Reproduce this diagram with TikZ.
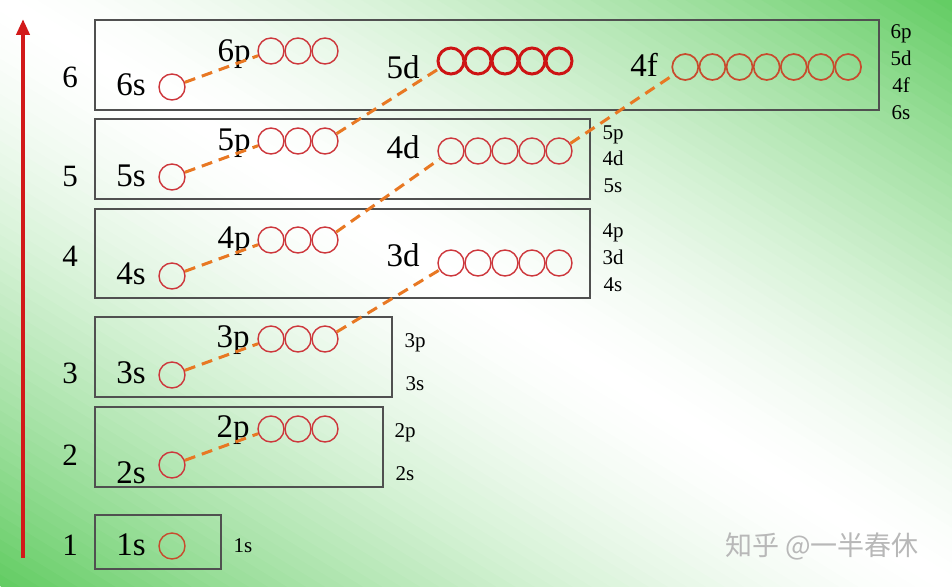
\documentclass[tikz,border=0pt]{standalone}
\usepackage{fontspec}
\setmainfont{Liberation Serif}
\newfontfamily\cjk{Noto Sans CJK SC}
\usetikzlibrary{arrows.meta}
\definecolor{bggreen}{RGB}{70,195,70}
\definecolor{orbred}{RGB}{205,55,60}
\definecolor{darkred}{RGB}{205,20,20}
\definecolor{forange}{RGB}{200,75,45}
\definecolor{dashorange}{RGB}{232,120,35}
\definecolor{boxgray}{RGB}{80,80,80}
\definecolor{arrowred}{RGB}{210,25,25}
\newcommand\setfs[1]{\fontsize{#1}{#1}\selectfont}
\tikzset{
  orb/.style={circle, draw=orbred, line width=1.4pt, minimum size=26pt, inner sep=0pt},
  orbd/.style={orb, draw=darkred, line width=3pt},
  orbf/.style={orb, draw=forange, line width=1.7pt},
  orbs/.style={orb, draw=forange},
  lbl/.style={anchor=base, inner sep=0pt, font=\setfs{33}},
  num/.style={anchor=base, inner sep=0pt, font=\setfs{31}},
  side/.style={anchor=base, inner sep=0pt, font=\setfs{21}},
  shell/.style={draw=boxgray, line width=1.3pt},
  link/.style={draw=dashorange, line width=3pt, dash pattern=on 11pt off 7pt},
  wm/.style={inner sep=0pt, text=black!28, font=\cjk\setfs{27}},
}
\begin{document}
\begin{tikzpicture}[x=1pt,y=-1pt]
\useasboundingbox (0,0) rectangle (952,586);
% background gradient
\begin{scope}
\clip (0,0) rectangle (952,586);
\fill[white] (0,0) rectangle (952,586);
\foreach \i in {0,...,99}{
  \pgfmathsetmacro\tm{(\i+0.5)/100}
  \pgfmathsetmacro\u{abs(2*\tm-1)}
  \pgfmathsetmacro\a{85*\u^1.5}
  \pgfmathsetmacro\ta{\i/100}
  \pgfmathsetmacro\tb{(\i+1.4)/100}
  \fill[bggreen!\a!white] ({952*\ta-952},{586*(1-\ta)-586}) -- ({952*\ta+952},{586*(1-\ta)+586})
     -- ({952*\tb+952},{586*(1-\tb)+586}) -- ({952*\tb-952},{586*(1-\tb)-586}) -- cycle;
}
\end{scope}

% arrow
\coordinate (abot) at (23,558);
\coordinate (atop) at (23,19);
\draw[arrowred, line width=4pt, -{Triangle[length=16pt,width=13pt]}] (abot) -- (atop);

% shell boxes
\draw[shell] (95,20) rectangle (879,110);
\draw[shell] (95,119) rectangle (590,199);
\draw[shell] (95,209) rectangle (590,298);
\draw[shell] (95,317) rectangle (392,397);
\draw[shell] (95,407) rectangle (383,487);
\draw[shell] (95,515) rectangle (221,569);

% shell numbers
\node[num] (n6) at (70,87) {6};
\node[num] (n5) at (70,186) {5};
\node[num] (n4) at (70,266) {4};
\node[num] (n3) at (70,383) {3};
\node[num] (n2) at (70,465) {2};
\node[num] (n1) at (70,555) {1};

% orbital labels
\node[lbl] (t6s) at (131,95) {6s};
\node[lbl] (t6p) at (234,62) {6p};
\node[lbl] (t5d) at (403,78) {5d};
\node[lbl] (t4f) at (644,77) {4f};
\node[lbl] (t5s) at (131,186) {5s};
\node[lbl] (t5p) at (234,150) {5p};
\node[lbl] (t4d) at (403,158) {4d};
\node[lbl] (t4s) at (131,284) {4s};
\node[lbl] (t4p) at (234,248) {4p};
\node[lbl] (t3d) at (403,266) {3d};
\node[lbl] (t3s) at (131,383) {3s};
\node[lbl] (t3p) at (233,347) {3p};
\node[lbl] (t2s) at (131,483) {2s};
\node[lbl] (t2p) at (233,437) {2p};
\node[lbl] (t1s) at (131,555) {1s};

% side labels
\node[side] (r6p) at (901,39) {6p};
\node[side] (r5d) at (901,65) {5d};
\node[side] (r4f) at (901,92) {4f};
\node[side] (r6s) at (901,119) {6s};
\node[side] (r5p) at (613,139) {5p};
\node[side] (r4d) at (613,165) {4d};
\node[side] (r5s) at (613,192) {5s};
\node[side] (r4p) at (613,237) {4p};
\node[side] (r3d) at (613,264) {3d};
\node[side] (r4s) at (613,291) {4s};
\node[side] (r3p) at (415,347) {3p};
\node[side] (r3s) at (415,390) {3s};
\node[side] (r2p) at (405,437) {2p};
\node[side] (r2s) at (405,480) {2s};
\node[side] (r1s) at (243,552) {1s};

% orbitals
\node[orb] (6s) at (172,87) {};
\node[orb] (5s) at (172,177) {};
\node[orb] (4s) at (172,276) {};
\node[orb] (3s) at (172,375) {};
\node[orb] (2s) at (172,465) {};
\node[orbs] (1s) at (172,546) {};
\foreach \k in {1,2,3}{
  \node[orb] (6p\k) at ({244+27*\k},51) {};
  \node[orb] (5p\k) at ({244+27*\k},141) {};
  \node[orb] (4p\k) at ({244+27*\k},240) {};
  \node[orb] (3p\k) at ({244+27*\k},339) {};
  \node[orb] (2p\k) at ({244+27*\k},429) {};
}
\foreach \k in {1,...,5}{
  \node[orbd] (5d\k) at ({424+27*\k},61) {};
  \node[orb] (4d\k) at ({424+27*\k},151) {};
  \node[orb] (3d\k) at ({424+27*\k},263) {};
}
\foreach \k in {1,...,7}{
  \node[orbf] (4f\k) at ({658.1+27.14*\k},67) {};
}

% filling-order links
\draw[link] (6s) -- (6p1);
\draw[link] (5s) -- (5p1);
\draw[link] (4s) -- (4p1);
\draw[link] (3s) -- (3p1);
\draw[link] (2s) -- (2p1);
\draw[link] (5p3) -- (5d1);
\draw[link] (4p3) -- (4d1);
\draw[link] (3p3) -- (3d1);
\draw[link] (4d5) -- (4f1);

% watermark
\node[wm] (wmark) at (822,546) {知乎 @一半春休};
\end{tikzpicture}
\end{document}
